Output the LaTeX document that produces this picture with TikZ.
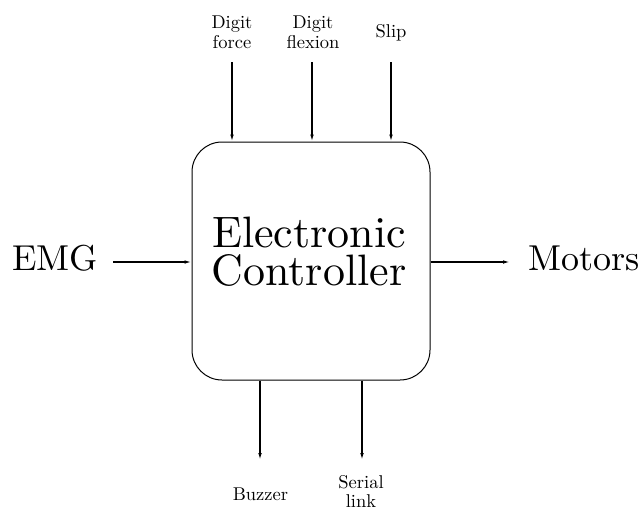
\documentclass[tikz,border=0pt]{standalone}
\usepackage{fontspec}
\setmainfont{lmroman10-regular}[Extension=.otf]
\usetikzlibrary{arrows.meta}
\begin{document}
\begin{tikzpicture}[x=1pt,y=-1pt,
  conn/.style={line width=1.3pt,-{Latex[length=7pt,width=3.6pt]}},
  ctrlbox/.style={draw,line width=1pt,rounded corners=30pt,minimum width=238pt,minimum height=238pt,inner sep=0pt},
  huge/.style={font=\fontsize{44}{38}\selectfont,inner sep=0pt,anchor=base},
  big/.style={font=\fontsize{36}{40}\selectfont,inner sep=0pt},
  small/.style={font=\fontsize{18.5}{19.5}\selectfont,align=center,inner sep=0pt}]
\useasboundingbox (0,0) rectangle (642,509);
\node[ctrlbox] (ctrl) at (311,261) {};
\node[huge] (title1) at (309,247) {Electronic};
\node[huge] (title2) at (309,285) {Controller};
\node[big,anchor=base west] (emg) at (12,270) {EMG};
\node[big,anchor=base west] (motors) at (528,270) {Motors};
\coordinate (emgs) at (113,262);
\coordinate (me) at (510,262);
\draw[conn] (emgs) -- (emgs -| ctrl.west);
\draw[conn] (me -| ctrl.east) -- (me);
% top
\coordinate (t1) at (232,62);
\coordinate (t2) at (312,62);
\coordinate (t3) at (391,62);
\node[small,anchor=base] (df) at (232,48) {Digit\\force};
\node[small,anchor=base] (dfl) at (313,48) {Digit\\flexion};
\node[small,anchor=base] (slip) at (391,37) {Slip};
\draw[conn] (t1) -- (t1 |- ctrl.north);
\draw[conn] (t2) -- (t2 |- ctrl.north);
\draw[conn] (t3) -- (t3 |- ctrl.north);
% bottom
\coordinate (b1) at (260,460);
\coordinate (b2) at (362,460);
\draw[conn] (b1 |- ctrl.south) -- (b1);
\draw[conn] (b2 |- ctrl.south) -- (b2);
\node[small,anchor=base] (buzzer) at (260.5,500) {Buzzer};
\node[small,anchor=base] (serial) at (361,507.5) {Serial\\link};
\end{tikzpicture}
\end{document}
